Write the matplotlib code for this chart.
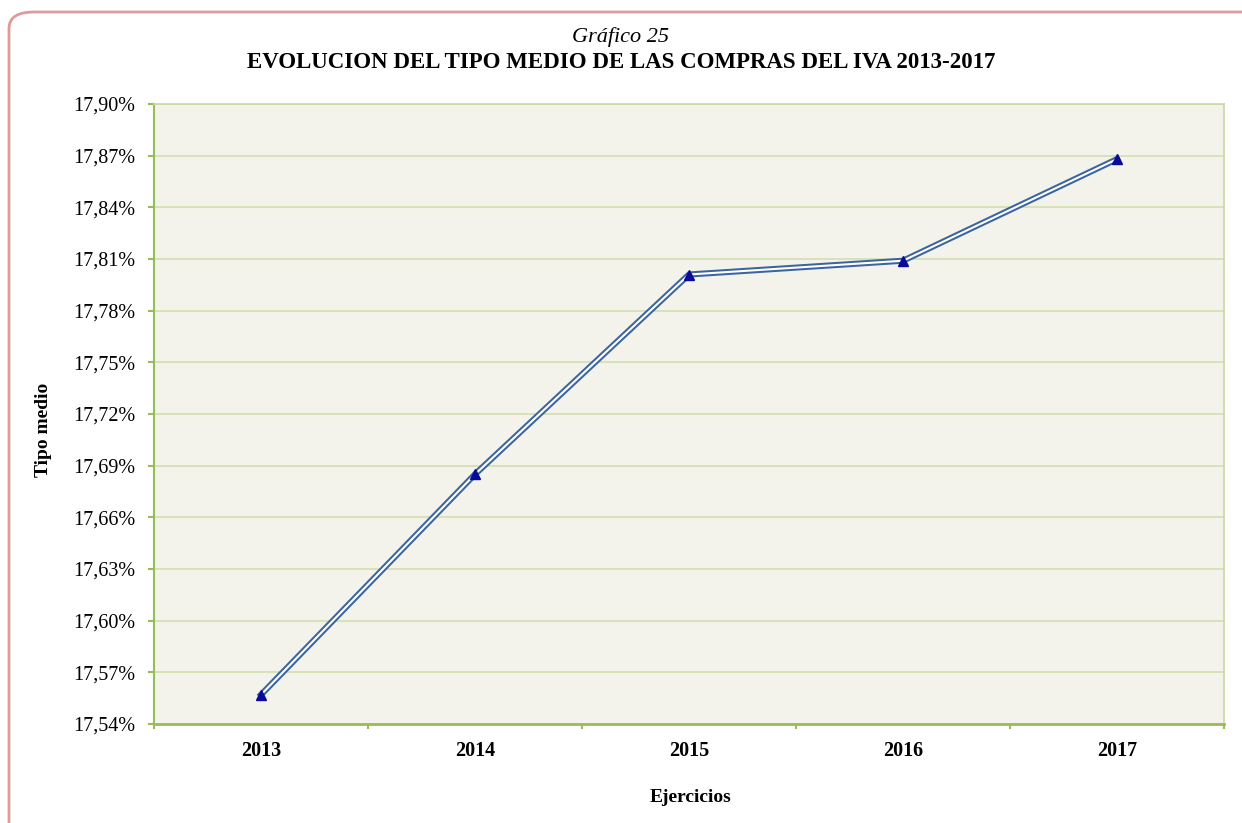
import matplotlib.pyplot as plt
from matplotlib.patches import FancyBboxPatch
from matplotlib.ticker import FuncFormatter, FixedLocator

years = ["2013", "2014", "2015", "2016", "2017"]
tipo_medio = [17.557, 17.685, 17.801, 17.809, 17.868]
y_ticks = [17.54, 17.57, 17.60, 17.63, 17.66, 17.69, 17.72, 17.75, 17.78, 17.81, 17.84, 17.87, 17.90]

plt.rcParams['font.family'] = ['Liberation Serif', 'DejaVu Serif']

fig = plt.figure(figsize=(12.42, 8.23), dpi=100)
ax = fig.add_axes([154 / 1242, 1 - 724 / 823, 1070 / 1242, 620 / 823])

# rounded frame around the chart
frame = FancyBboxPatch((9 / 1242, -0.05), 1.05, 1 - 12 / 823 + 0.05,
                       boxstyle="round,pad=0,rounding_size=0.02",
                       transform=fig.transFigure, fill=False,
                       edgecolor='#e09a9a', linewidth=2, clip_on=False)
fig.patches.append(frame)

ax.set_facecolor('#f4f3eb')
x = list(range(len(years)))
# double line: wide blue line with a white core
ax.plot(x, tipo_medio, color='#3a64a0', linewidth=4.4, solid_joinstyle='miter', zorder=3)
ax.plot(x, tipo_medio, color='white', linewidth=1.5, solid_joinstyle='miter', zorder=4)
ax.plot(x, tipo_medio, linestyle='none', marker='^', markersize=6.5,
        color='#0a0a9a', markeredgecolor='#0a0a9a', zorder=5)

ax.set_xlim(-0.5, 4.5)
ax.set_ylim(17.54, 17.90)
ax.set_yticks(y_ticks)
ax.yaxis.set_major_formatter(FuncFormatter(lambda v, p: f"{v:.2f}%".replace('.', ',')))
ax.grid(axis='y', color='#d3dfae', linewidth=1.2)
ax.set_axisbelow(True)

ax.set_xticks(x)
ax.set_xticklabels(years, fontweight='bold', fontsize=14.5)
ax.xaxis.set_minor_locator(FixedLocator([i - 0.5 for i in range(len(years) + 1)]))
ax.tick_params(axis='x', which='major', length=0, pad=12)
ax.tick_params(axis='x', which='minor', length=3.5, color='#9bbb59', width=1.5)
ax.tick_params(axis='y', length=4.5, color='#9bbb59', width=1.5, labelsize=14.5, pad=9)

for s in ax.spines.values():
    s.set_color('#c6d9a0')
    s.set_linewidth(1.2)
ax.spines['bottom'].set_color('#9bbb59')
ax.spines['bottom'].set_linewidth(2)
ax.spines['left'].set_color('#9bbb59')
ax.spines['left'].set_linewidth(1.5)

fig.text(691 / 1242, 1 - 798 / 823, "Ejercicios", ha='center', va='center',
         fontsize=14, fontweight='bold')
fig.text(43 / 1242, 1 - 430 / 823, "Tipo medio", ha='center', va='center',
         fontsize=14, fontweight='bold', rotation=90)

fig.text(0.5, 1 - 37 / 823, "Gráfico 25", ha='center', va='center', fontsize=16, style='italic')
fig.text(0.5, 1 - 62 / 823, "EVOLUCION DEL TIPO MEDIO DE LAS COMPRAS DEL IVA 2013-2017",
         ha='center', va='center', fontsize=16.5, fontweight='bold')

fig.savefig("out.png", dpi=100)
